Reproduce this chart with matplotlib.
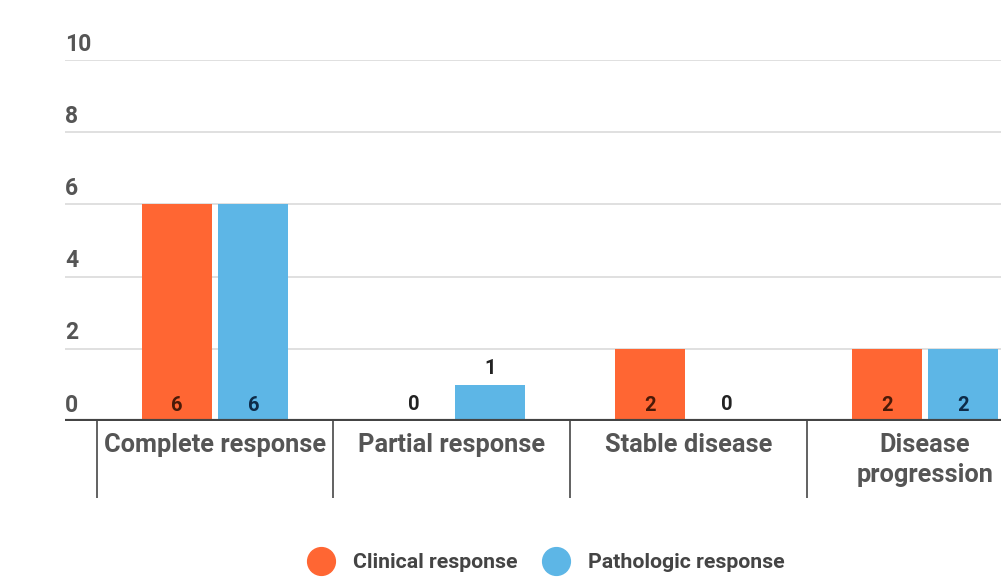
import matplotlib
matplotlib.use("Agg")
import matplotlib.pyplot as plt
from matplotlib.lines import Line2D
import numpy as np

categories = ["Complete response", "Partial response", "Stable disease", "Disease\nprogression"]
series_names = ["Clinical response", "Pathologic response"]
clinical = [6, 0, 2, 2]
pathologic = [6, 1, 0, 2]
y_ticks = [0, 2, 4, 6, 8, 10]

orange = "#FF6633"
blue = "#5DB6E6"
txt = "#555555"

plt.rcParams['font.family'] = ['Roboto', 'DejaVu Sans']

fig = plt.figure(figsize=(10.01, 5.81), dpi=100)
ax = fig.add_axes([65/1001, 160/581, 1 - 65/1001, 361/581])
ax.set_xlim(-0.635, 3.322)
ax.set_ylim(0, 10)

for s in ax.spines.values():
    s.set_visible(False)
ax.set_xticks([])
ax.set_yticks([])

# gridlines and y labels
for t in y_ticks:
    if t > 0:
        ax.axhline(t, color="#dddddd", lw=1.3, zorder=0)
    ax.text(0.0, t + 0.12, str(t), transform=ax.get_yaxis_transform(),
            ha="left", va="bottom", fontsize=16.5, fontweight="bold", color=txt)
ax.axhline(0, color="#444444", lw=3, zorder=3)

x = np.arange(len(categories))
w = 0.296
off = 0.161
b1 = ax.bar(x - off, clinical, w, color=orange, zorder=2)
b2 = ax.bar(x + off, pathologic, w, color=blue, zorder=2)

def label(bars, vals, incol):
    for b, v in zip(bars, vals):
        cx = b.get_x() + b.get_width() / 2
        if v >= 2:
            ax.annotate(str(v), (cx, 0), xytext=(0, 11), textcoords="offset points",
                        ha="center", va="center", fontsize=14.5, fontweight="bold", color=incol, zorder=4)
        else:
            ax.annotate(str(v), (cx, v), xytext=(0, 12), textcoords="offset points",
                        ha="center", va="center", fontsize=14.5, fontweight="bold", color="#222222", zorder=4)

label(b1, clinical, "#4a1a08")
label(b2, pathologic, "#0e2b48")

# category separators
ax.vlines([-0.5, 0.5, 1.5, 2.5, 3.5], -2.14, 0, colors="#555555", lw=1.3, clip_on=False)

for i, c in enumerate(categories):
    ax.text(i, -0.33, c, ha="center", va="top", fontsize=18.3, fontweight="bold",
            color=txt, linespacing=1.3)

handles = [Line2D([], [], marker="o", ls="", markersize=20, markerfacecolor=orange, markeredgecolor=orange),
           Line2D([], [], marker="o", ls="", markersize=20, markerfacecolor=blue, markeredgecolor=blue)]
leg = fig.legend(handles, series_names, loc="center", bbox_to_anchor=(0.547, 1 - 563/581),
                 ncol=2, frameon=False, fontsize=15.3, handlelength=1.0, handletextpad=1.0,
                 columnspacing=1.3)
for t in leg.get_texts():
    t.set_color("#444444")
    t.set_fontweight("bold")

fig.savefig("out.png", dpi=100)
